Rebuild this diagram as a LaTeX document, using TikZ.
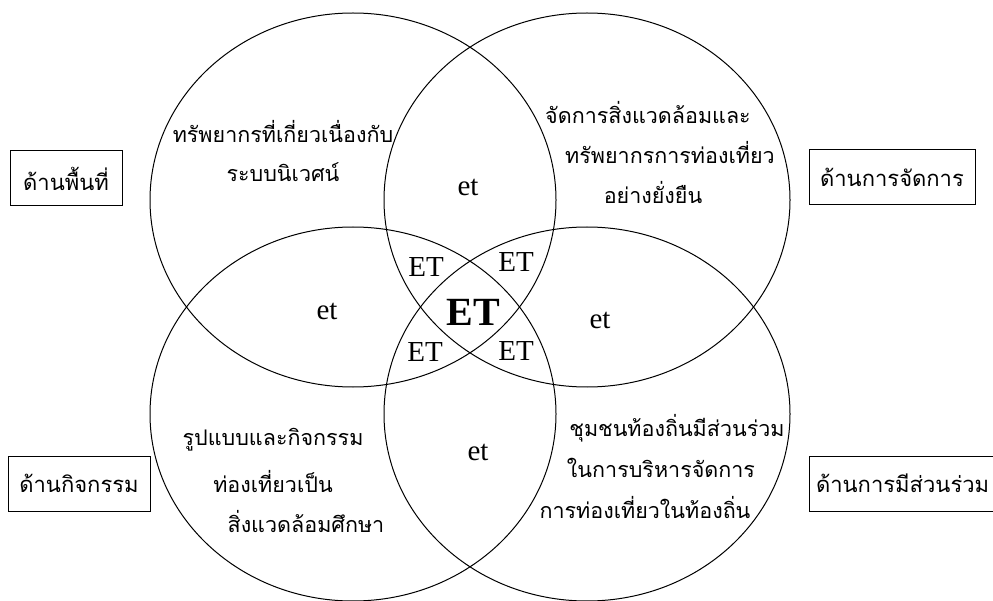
\documentclass[tikz,border=0pt]{standalone}
\usepackage{fontspec}
\setmainfont{Liberation Serif}
\newfontfamily\thaifont[Script=Thai]{Loma}
\usetikzlibrary{shapes.geometric}

\begin{document}
\begin{tikzpicture}[x=1pt, y=-1pt, line width=1pt,
        ring/.style={draw, ellipse, minimum width=406pt, minimum height=374pt},
        aspect/.style={draw, minimum height=55pt, inner sep=0pt, font=\thaifont\fontsize{22}{26}\selectfont},
        thai/.style={inner sep=0pt, font=\thaifont\fontsize{21.5}{26}\selectfont},
        tag/.style={inner sep=0pt, font=\fontsize{29}{33}\selectfont}]
        % Fix the page size
        \useasboundingbox (0,0) rectangle (993,601);

        % Draw the four circles
        \node[ring] (area) at (353,200) {};
        \node[ring] (manage) at (587,200) {};
        \node[ring] (activity) at (353,414) {};
        \node[ring] (share) at (587,414) {};

        % Draw the side boxes
        \node[aspect, minimum width=112pt] (areabox) at (66,178.5) {ด้านพื้นที่};
        \node[aspect, minimum width=166pt] (managebox) at (892,177) {ด้านการจัดการ};
        \node[aspect, minimum width=142pt] (activitybox) at (79,483.5) {ด้านกิจกรรม};
        \node[aspect, minimum width=195pt, text width=181pt, align=left] (sharebox) at (906.5,483.5) {ด้านการมีส่วนร่วม};

        % Texts inside the circles
        \node[thai] (area1) at (283,132) {ทรัพยากรที่เกี่ยวเนื่องกับ};
        \node[thai] (area2) at (283,172) {ระบบนิเวศน์};
        \node[thai] (manage1) at (648,113) {จัดการสิ่งแวดล้อมและ};
        \node[thai] (manage2) at (670,153) {ทรัพยากรการท่องเที่ยว};
        \node[thai] (manage3) at (653,193) {อย่างยั่งยืน};
        \node[thai] (activity1) at (273,440) {รูปแบบและกิจกรรม};
        \node[thai] (activity2) at (273,482) {ท่องเที่ยวเป็น};
        \node[thai] (activity3) at (306,522) {สิ่งแวดล้อมศึกษา};
        \node[thai] (share1) at (677,428) {ชุมชนท้องถิ่นมีส่วนร่วม};
        \node[thai] (share2) at (661,468) {ในการบริหารจัดการ};
        \node[thai] (share3) at (645,508) {การท่องเที่ยวในท้องถิ่น};

        % Overlap tags
        \node[tag] (etTop) at (468,187) {et};
        \node[tag] (etLeft) at (327,311) {et};
        \node[tag] (etRight) at (600,320) {et};
        \node[tag] (etBottom) at (478,452) {et};
        \node[tag] (ETtl) at (426,267) {ET};
        \node[tag] (ETtr) at (516,262) {ET};
        \node[tag] (ETbl) at (425,352) {ET};
        \node[tag] (ETbr) at (516,351) {ET};
        \node[tag, font=\bfseries\fontsize{40}{44}\selectfont] (ETmid) at (473,312) {ET};
      \end{tikzpicture}
\end{document}
